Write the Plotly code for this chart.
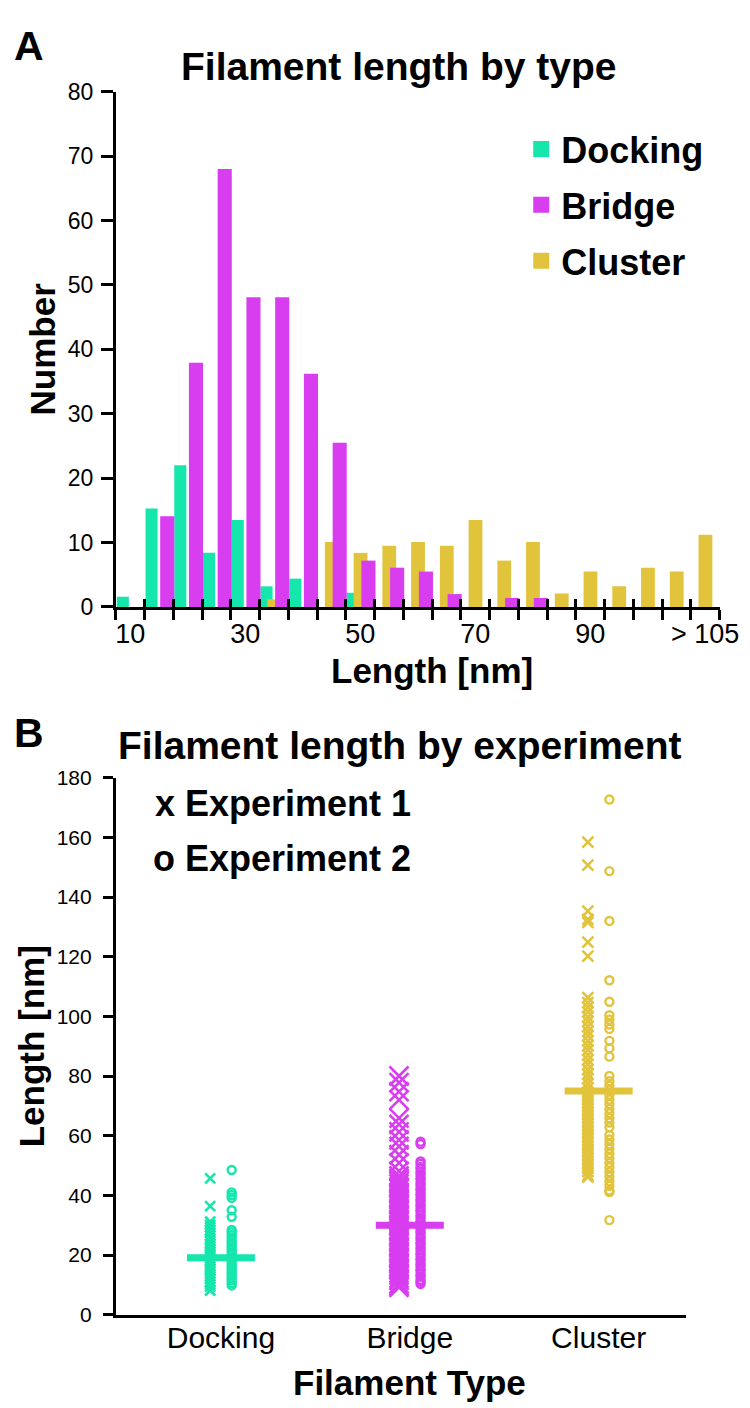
import plotly.graph_objects as go

# ---------------- Panel A data (histogram counts per 5 nm bin) ----------------
bin_labels = ["10", "15", "20", "25", "30", "35", "40", "45", "50", "55", "60",
              "65", "70", "75", "80", "85", "90", "95", "100", "105", "> 105"]
shown_bins = ["10", "30", "50", "70", "90", "> 105"]
docking_counts = [1.6, 15.3, 22, 8.4, 13.5, 3.2, 4.4, 0, 2.2, 0, 0,
                  0, 0, 0, 0, 0, 0, 0, 0, 0, 0]
bridge_counts = [0, 14.1, 37.9, 68, 48.1, 48.1, 36.2, 25.5, 7.2, 6.1, 5.5,
                 2.0, 0, 1.4, 1.4, 0, 0, 0, 0, 0, 0]
cluster_counts = [0, 0, 0, 0, 0, 1.2, 0, 10.1, 8.4, 9.5, 10.1,
                  9.5, 13.5, 7.2, 10.1, 2.1, 5.5, 3.2, 6.1, 5.5, 11.2]

# ---------------- Panel B data (individual filament lengths, nm) ----------------
types = ["Docking", "Bridge", "Cluster"]
docking_exp1 = [45.7, 36.4, 31.2, 30.1, 29.3, 28.2, 27.4, 26.5, 25.5, 24.8, 23.7,
                22.9, 22.0, 21.2, 20.3, 19.6, 18.8, 18.0, 17.1, 16.2, 15.4, 14.6,
                13.7, 12.9, 12.0, 11.1, 10.2, 9.4, 8.1]
docking_exp2 = [48.5, 41.0, 40.1, 39.2, 35.0, 32.8, 28.4, 27.6, 26.7, 25.9, 25.0,
                24.2, 23.3, 22.5, 21.6, 20.8, 20.0, 19.1, 18.3, 17.4, 16.6, 15.7,
                14.9, 14.0, 13.2, 12.3, 11.5, 10.6, 9.8]
bridge_exp1 = [80.0, 77.8, 74.8, 72.0, 65.9, 63.8, 61.3, 58.6, 56.4, 53.6, 50.9,
               48.1, 46.5, 45.7, 44.6, 43.8, 42.8, 42.1, 41.0, 40.3, 39.2, 38.5,
               37.4, 36.7, 35.6, 34.9, 33.8, 33.1, 32.0, 31.3, 30.2, 29.5, 28.4,
               27.7, 26.6, 25.9, 24.8, 24.1, 23.0, 22.3, 21.2, 20.5, 19.4, 18.7,
               17.6, 16.9, 15.8, 15.1, 14.0, 13.3, 12.2, 11.5, 10.4, 9.8, 9.2]
bridge_exp2 = [58.0, 57.2, 51.4, 50.6, 49.5, 48.8, 47.7, 47.0, 45.9, 45.2, 44.1,
               43.4, 42.3, 41.6, 40.5, 39.8, 38.7, 38.0, 36.9, 36.2, 35.1, 34.4,
               33.3, 32.6, 31.5, 30.8, 29.7, 29.0, 27.9, 27.2, 26.1, 25.4, 24.3,
               23.6, 22.5, 21.8, 20.7, 20.0, 18.9, 18.2, 17.1, 16.4, 15.3, 14.6,
               13.5, 12.8, 11.7, 11.0, 10.3]
cluster_exp1 = [158.4, 150.7, 135.3, 132.5, 131.5, 124.9, 120.2, 106.3, 104.6,
                103.0, 101.5, 99.8, 98.3, 96.6, 95.0, 93.5, 91.8, 90.2, 88.7,
                87.0, 85.4, 83.9, 82.2, 80.6, 79.1, 77.5, 76.0, 74.6, 73.3, 72.0,
                70.8, 69.5, 68.2, 67.0, 65.7, 64.4, 63.2, 61.9, 60.6, 59.4, 58.1,
                56.8, 55.6, 54.3, 53.0, 51.8, 50.5, 49.2, 48.0, 46.7, 46.1]
cluster_exp2 = [172.7, 148.7, 132.0, 112.1, 104.9, 100.4, 98.9, 97.3, 95.8, 91.8,
                89.3, 86.5, 80.0, 78.3, 76.8, 75.2, 73.7, 72.1, 70.6, 69.0, 67.5,
                65.9, 64.4, 62.8, 60.2, 58.7, 57.1, 55.6, 54.0, 52.5, 50.9, 49.4,
                47.8, 46.3, 44.7, 43.2, 41.6, 41.1, 31.7]
medians = [19.1, 30.0, 75.0]

# ---------------- style ----------------
TEAL = "#14E6AC"
MAGENTA = "#D83DF0"
GOLD = "#E2C33C"
colors = [TEAL, MAGENTA, GOLD]
FONT = "Liberation Sans, Arial, Helvetica, sans-serif"
W, H = 750, 1408


def px(x):
    return x / W


def py(y):
    return 1 - y / H


fig = go.Figure()

# ---------------- Panel A ----------------
xpos = list(range(len(bin_labels)))
fig.add_trace(go.Bar(x=xpos, y=docking_counts, name="Docking", marker_color=TEAL,
                     marker_line_width=0, offset=-0.47, width=0.42,
                     showlegend=False, xaxis="x", yaxis="y"))
fig.add_trace(go.Bar(x=xpos, y=cluster_counts, name="Cluster", marker_color=GOLD,
                     marker_line_width=0, offset=-0.23, width=0.48,
                     showlegend=False, xaxis="x", yaxis="y"))
fig.add_trace(go.Bar(x=xpos, y=bridge_counts, name="Bridge", marker_color=MAGENTA,
                     marker_line_width=0, offset=0.04, width=0.49,
                     showlegend=False, xaxis="x", yaxis="y"))
# legend entries (square swatches)
for name, col in [("Docking", TEAL), ("Bridge", MAGENTA), ("Cluster", GOLD)]:
    fig.add_trace(go.Scatter(x=[None], y=[None], mode="markers", name=name,
                             legendgroup=name,
                             marker=dict(symbol="square", size=18, color=col),
                             xaxis="x", yaxis="y"))
# helper trace so the overlay axis with inner tick marks is drawn
fig.add_trace(go.Scatter(x=[], y=[], xaxis="x3", yaxis="y", showlegend=False,
                         hoverinfo="skip"))

# ---------------- Panel B ----------------
exp1 = [docking_exp1, bridge_exp1, cluster_exp1]
exp2 = [docking_exp2, bridge_exp2, cluster_exp2]
xsizes = [10, 19, 11]
OFF = 0.057
for i, t in enumerate(types):
    fig.add_trace(go.Scatter(
        x=[i - OFF] * len(exp1[i]), y=exp1[i], mode="markers",
        marker=dict(symbol="x-thin", size=xsizes[i], color=colors[i],
                    line=dict(width=2.6, color=colors[i])),
        showlegend=False, xaxis="x2", yaxis="y2"))
    fig.add_trace(go.Scatter(
        x=[i + OFF] * len(exp2[i]), y=exp2[i], mode="markers",
        marker=dict(symbol="circle-open", size=8, color=colors[i],
                    line=dict(width=2.4, color=colors[i])),
        showlegend=False, xaxis="x2", yaxis="y2"))
for i, t in enumerate(types):
    fig.add_trace(go.Scatter(
        x=[i - 0.18, i + 0.18], y=[medians[i], medians[i]], mode="lines",
        line=dict(color=colors[i], width=7), showlegend=False,
        xaxis="x2", yaxis="y2"))

bounds = [b - 0.5 for b in range(len(bin_labels) + 1)]
axis_common = dict(showgrid=False, zeroline=False, showline=True, linecolor="black",
                   linewidth=3, tickcolor="black")

fig.update_layout(
    width=W, height=H, margin=dict(l=0, r=0, t=0, b=0),
    paper_bgcolor="white", plot_bgcolor="white",
    font=dict(family=FONT, color="black"),
    barmode="overlay",
    showlegend=True,
    legend=dict(x=px(527), y=py(100), xanchor="left", yanchor="top",
                font=dict(size=36, family=FONT, weight="bold"),
                bgcolor="rgba(0,0,0,0)", traceorder="grouped",
                itemwidth=30, tracegroupgap=6),
    xaxis=dict(domain=[px(110), px(731)], range=[-0.5, 20.5], anchor="y",
               tickmode="array", tickvals=[0, 4, 8, 12, 16, 20], ticktext=shown_bins,
               ticks="", tickfont=dict(size=27), ticklabelstandoff=1,
               ticklabeloverflow="allow",
               minor=dict(tickmode="array", tickvals=bounds, ticks="outside",
                          ticklen=10, tickwidth=3, tickcolor="black"),
               **axis_common),
    xaxis3=dict(overlaying="x", anchor="y", range=[-0.5, 20.5], tickmode="array",
                tickvals=bounds, ticks="inside", ticklen=8, tickwidth=3,
                tickcolor="black", showticklabels=False, showline=False,
                showgrid=False, zeroline=False),
    yaxis=dict(domain=[py(597), py(72)], range=[0, 80], anchor="x",
               tickmode="array", tickvals=list(range(0, 81, 10)),
               ticks="outside", ticklen=12, tickwidth=3, tickfont=dict(size=23),
               ticklabelstandoff=3,
               title=dict(text="Number", font=dict(size=35, weight="bold"),
                          standoff=2),
               **axis_common),
    xaxis2=dict(domain=[px(110), px(696)], range=[-0.556, 2.46], anchor="y2",
                tickmode="array", tickvals=[0, 1, 2], ticktext=types, ticks="",
                tickfont=dict(size=30), ticklabelstandoff=-6,
                **axis_common),
    yaxis2=dict(domain=[py(1318), py(771)], range=[0, 180], anchor="x2",
                tickmode="array", tickvals=list(range(0, 181, 20)),
                ticks="outside", ticklen=10, tickwidth=3, tickfont=dict(size=21),
                ticklabelstandoff=7,
                title=dict(text="Length [nm]", font=dict(size=35, weight="bold"),
                           standoff=2),
                **axis_common),
)

annotations = [
    dict(text="A", x=px(3), y=py(0), xanchor="left", yanchor="top",
         font=dict(size=41, weight="bold")),
    dict(text="B", x=px(3), y=py(700), xanchor="left", yanchor="top",
         font=dict(size=41, weight="bold")),
    dict(text="Filament length by type", x=px(401), y=py(46), xanchor="center",
         yanchor="middle", font=dict(size=39, weight="bold")),
    dict(text="Length [nm]", x=px(435), y=py(662), xanchor="center",
         yanchor="middle", font=dict(size=35, weight="bold")),
    dict(text="Filament length by experiment", x=px(402), y=py(738),
         xanchor="center", yanchor="middle", font=dict(size=39, weight="bold")),
    dict(text="x Experiment 1", x=px(148), y=py(797), xanchor="left",
         yanchor="middle", font=dict(size=36, weight="bold")),
    dict(text="o Experiment 2", x=px(146), y=py(853), xanchor="left",
         yanchor="middle", font=dict(size=36, weight="bold")),
    dict(text="Filament Type", x=px(412), y=py(1387), xanchor="center",
         yanchor="middle", font=dict(size=35, weight="bold")),
]
for a in annotations:
    a.update(xref="paper", yref="paper", showarrow=False)
    a["font"].update(family=FONT, color="black")
fig.update_layout(annotations=annotations)

fig.write_html("out.html")
